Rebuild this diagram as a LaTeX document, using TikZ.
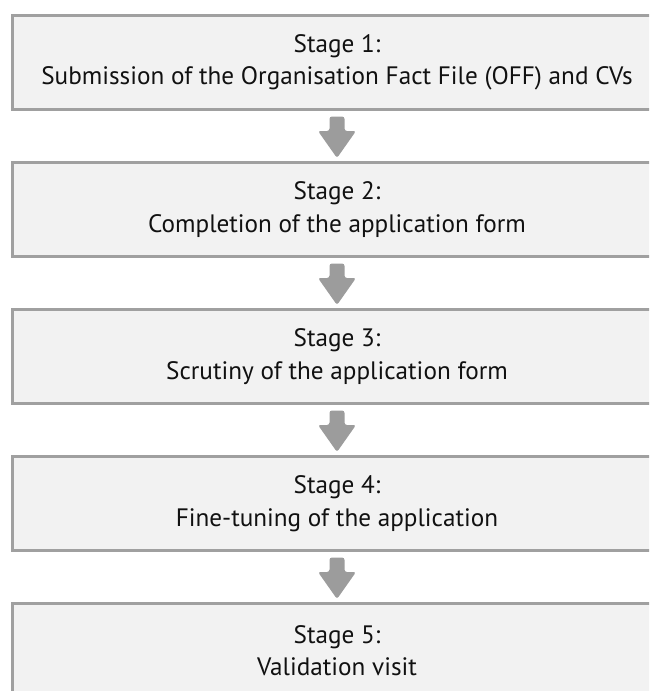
\documentclass[tikz,border=0pt]{standalone}
\usepackage{fontspec}
\setmainfont{PT Sans}
\usetikzlibrary{calc}
\definecolor{boxfill}{HTML}{F2F2F2}
\definecolor{boxline}{HTML}{A0A0A0}
\definecolor{arrowc}{HTML}{9C9C9C}
\definecolor{textc}{HTML}{111111}
\newcommand\stagearrow[2]{%
  \fill[arrowc,rounded corners=2.5pt]
    ($(#1.south)+(-7.5,5.5)$) -- ($(#1.south)+(7.5,5.5)$)
    -- ($(#2.north)+(7.5,-30)$) -- ($(#2.north)+(19,-30)$)
    -- ($(#2.north)+(0,-3)$) -- ($(#2.north)+(-19,-30)$)
    -- ($(#2.north)+(-7.5,-30)$) -- cycle;}
\begin{document}
\begin{tikzpicture}[x=1pt,y=-1pt,
  stagebox/.style={draw=boxline,fill=boxfill,line width=3pt,rectangle,
    minimum width=649pt,minimum height=94pt,inner sep=0pt,
    align=center,text=textc,font=\fontsize{25.2}{32.5}\selectfont}]
\useasboundingbox (0,0) rectangle (649,691);
\clip (0,0) rectangle (649,691);
\fill[white] (0,0) rectangle (649,691);
\node[stagebox] (b1) at (337,62.5) {Stage 1:\\Submission of the Organisation Fact File (OFF) and CVs};
\node[stagebox] (b2) at (337,209.5) {Stage 2:\\Completion of the application form};
\node[stagebox] (b3) at (337,356.5) {Stage 3:\\Scrutiny of the application form};
\node[stagebox] (b4) at (337,503.5) {Stage 4:\\Fine-tuning of the application};
\node[stagebox] (b5) at (337,650.5) {Stage 5:\\Validation visit};
\stagearrow{b1}{b2}
\stagearrow{b2}{b3}
\stagearrow{b3}{b4}
\stagearrow{b4}{b5}
\end{tikzpicture}
\end{document}
